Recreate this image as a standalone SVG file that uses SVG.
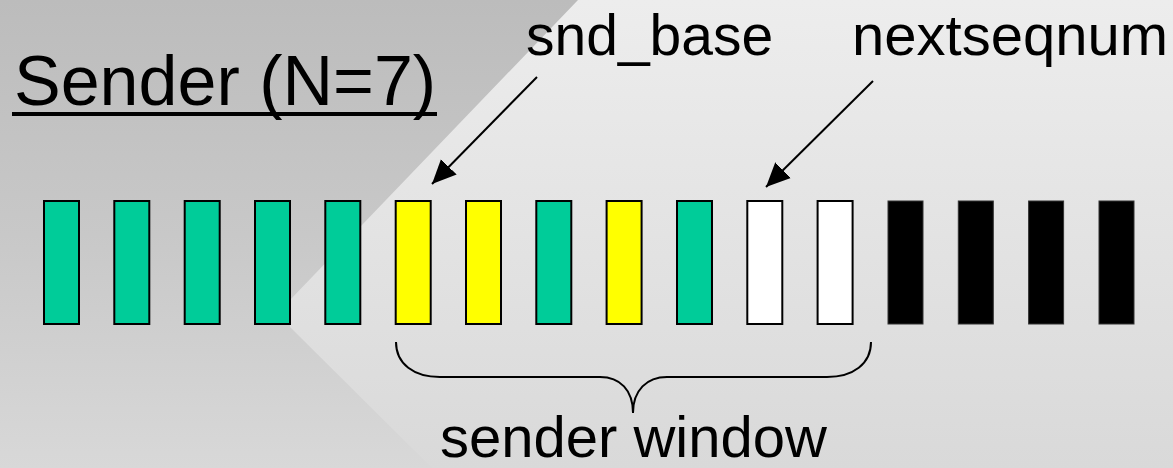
<svg xmlns="http://www.w3.org/2000/svg" width="1173" height="468" viewBox="0 0 1173 468">
<defs>
<linearGradient id="bgLight" x1="0" y1="0" x2="0" y2="1">
<stop offset="0" stop-color="#ededed"/>
<stop offset="1" stop-color="#d9d9d9"/>
</linearGradient>
<linearGradient id="bgDark" x1="0" y1="0" x2="0" y2="1">
<stop offset="0" stop-color="#bcbcbc"/>
<stop offset="0.5" stop-color="#c8c8c8"/>
<stop offset="1" stop-color="#d8d8d8"/>
</linearGradient>
<marker id="arrow" markerUnits="userSpaceOnUse" markerWidth="26" markerHeight="24" refX="24" refY="12" orient="auto">
<path d="M0,1 L24,12 L0,23 Z" fill="#000"/>
</marker>
<style>
text{font-family:"Liberation Sans",Arial,sans-serif;fill:#000}
.pkt{stroke:#000;stroke-width:2}
.green{fill:#00cc99}
.yellow{fill:#ffff00}
.white{fill:#ffffff}
.black{fill:#000000;stroke:#333;stroke-width:1}
.conn{stroke:#000;stroke-width:2;fill:none}
</style>
</defs>
<rect x="0" y="0" width="1173" height="468" fill="url(#bgLight)"/>
<polygon points="0,0 578,0 290,300 290,327 432,468 0,468" fill="url(#bgDark)"/>

<g id="title">
<text x="14" y="105" font-size="70">Sender (N=7)</text>
<rect x="12" y="112" width="425" height="4" fill="#000"/>
</g>
<g id="label-snd_base">
<text x="526" y="55" font-size="57">snd_base</text>
</g>
<g id="label-nextseqnum">
<text x="852" y="55" font-size="58">nextseqnum</text>
</g>
<g id="label-window">
<text x="440" y="457" font-size="58">sender window</text>
</g>

<g id="packets">
<rect id="p0" class="pkt green" x="44" y="201" width="35" height="123"/>
<rect id="p1" class="pkt green" x="114.3" y="201" width="35" height="123"/>
<rect id="p2" class="pkt green" x="184.7" y="201" width="35" height="123"/>
<rect id="p3" class="pkt green" x="255" y="201" width="35" height="123"/>
<rect id="p4" class="pkt green" x="325.3" y="201" width="35" height="123"/>
<rect id="p5" class="pkt yellow" x="395.7" y="201" width="35" height="123"/>
<rect id="p6" class="pkt yellow" x="466" y="201" width="35" height="123"/>
<rect id="p7" class="pkt green" x="536.3" y="201" width="35" height="123"/>
<rect id="p8" class="pkt yellow" x="606.6" y="201" width="35" height="123"/>
<rect id="p9" class="pkt green" x="677" y="201" width="35" height="123"/>
<rect id="p10" class="pkt white" x="747.3" y="201" width="35" height="123"/>
<rect id="p11" class="pkt white" x="817.6" y="201" width="35" height="123"/>
<rect id="p12" class="black" x="888" y="201" width="35" height="123"/>
<rect id="p13" class="black" x="958.3" y="201" width="35" height="123"/>
<rect id="p14" class="black" x="1028.6" y="201" width="35" height="123"/>
<rect id="p15" class="black" x="1099" y="201" width="35" height="123"/>
</g>

<g id="connectors">
<line class="conn" x1="537" y1="77" x2="432" y2="184" marker-end="url(#arrow)"/>
<line class="conn" x1="873" y1="81" x2="766" y2="187" marker-end="url(#arrow)"/>
<path id="brace" class="conn" d="M396,342 C396,364 414,377 440,377 L600,377 C620,377 633,390 633,413 C633,390 647,377 667,377 L827,377 C853,377 871,364 871,342"/>
</g>
</svg>
